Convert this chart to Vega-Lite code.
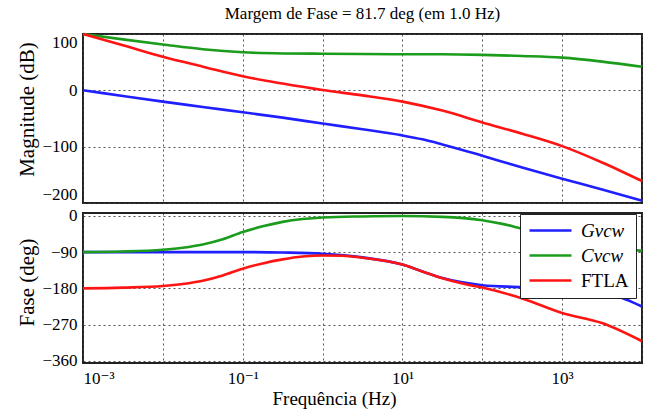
{
  "$schema": "https://vega.github.io/schema/vega-lite/v6.json",
  "padding": {"left": 15, "top": 3, "right": 8, "bottom": 2},
  "background": "white",
  "config": {
    "font": "'Liberation Serif', 'Times New Roman', 'DejaVu Serif', serif",
    "style": {
      "guide-label": {"font": "'Liberation Serif', 'Times New Roman', 'DejaVu Serif', serif"},
      "guide-title": {"font": "'Liberation Serif', 'Times New Roman', 'DejaVu Serif', serif"}
    },
    "view": {"stroke": "#222", "strokeWidth": 2},
    "axis": {
      "labelFont": "'Liberation Serif', 'Times New Roman', 'DejaVu Serif', serif", "labelFontSize": 17, "labelColor": "#000",
      "titleFont": "'Liberation Serif', 'Times New Roman', 'DejaVu Serif', serif", "titleFontWeight": "normal", "titleColor": "#000",
      "grid": true, "gridDash": [2, 3], "gridColor": "#444", "gridWidth": 1, "gridOpacity": 0.9,
      "domain": false, "ticks": false
    },
    "line": {"strokeWidth": 2.6, "interpolate": "monotone"}
  },
  "datasets": {
    "mag": [
      {"f": 0.001, "s": "Gvcw", "v": 0}, {"f": 0.0031623, "s": "Gvcw", "v": -10}, {"f": 0.01, "s": "Gvcw", "v": -20},
      {"f": 0.031623, "s": "Gvcw", "v": -29.5}, {"f": 0.1, "s": "Gvcw", "v": -39}, {"f": 0.31623, "s": "Gvcw", "v": -48.5},
      {"f": 1, "s": "Gvcw", "v": -59}, {"f": 3.1623, "s": "Gvcw", "v": -69}, {"f": 10, "s": "Gvcw", "v": -80},
      {"f": 17.783, "s": "Gvcw", "v": -87}, {"f": 31.623, "s": "Gvcw", "v": -96}, {"f": 100, "s": "Gvcw", "v": -116},
      {"f": 316.23, "s": "Gvcw", "v": -137}, {"f": 1000, "s": "Gvcw", "v": -157}, {"f": 3162.3, "s": "Gvcw", "v": -176},
      {"f": 10000, "s": "Gvcw", "v": -196},
      {"f": 0.001, "s": "Cvcw", "v": 100}, {"f": 0.0031623, "s": "Cvcw", "v": 90.5}, {"f": 0.01, "s": "Cvcw", "v": 81.5},
      {"f": 0.031623, "s": "Cvcw", "v": 73}, {"f": 0.1, "s": "Cvcw", "v": 67.5}, {"f": 0.31623, "s": "Cvcw", "v": 65.5},
      {"f": 1, "s": "Cvcw", "v": 65}, {"f": 3.1623, "s": "Cvcw", "v": 64.5}, {"f": 10, "s": "Cvcw", "v": 64},
      {"f": 31.623, "s": "Cvcw", "v": 64}, {"f": 100, "s": "Cvcw", "v": 63}, {"f": 316.23, "s": "Cvcw", "v": 61},
      {"f": 1000, "s": "Cvcw", "v": 58}, {"f": 3162.3, "s": "Cvcw", "v": 51}, {"f": 10000, "s": "Cvcw", "v": 42},
      {"f": 0.001, "s": "FTLA", "v": 100}, {"f": 0.0031623, "s": "FTLA", "v": 80}, {"f": 0.01, "s": "FTLA", "v": 59.5},
      {"f": 0.031623, "s": "FTLA", "v": 42}, {"f": 0.1, "s": "FTLA", "v": 25}, {"f": 0.31623, "s": "FTLA", "v": 12},
      {"f": 1, "s": "FTLA", "v": 0.5}, {"f": 3.1623, "s": "FTLA", "v": -9}, {"f": 10, "s": "FTLA", "v": -20},
      {"f": 31.623, "s": "FTLA", "v": -36}, {"f": 100, "s": "FTLA", "v": -57}, {"f": 316.23, "s": "FTLA", "v": -77},
      {"f": 1000, "s": "FTLA", "v": -99}, {"f": 3162.3, "s": "FTLA", "v": -128}, {"f": 10000, "s": "FTLA", "v": -161}
    ],
    "phase": [
      {"f": 0.001, "s": "Gvcw", "v": -90}, {"f": 0.01, "s": "Gvcw", "v": -90}, {"f": 0.1, "s": "Gvcw", "v": -90},
      {"f": 0.31623, "s": "Gvcw", "v": -91}, {"f": 1, "s": "Gvcw", "v": -94}, {"f": 3.1623, "s": "Gvcw", "v": -103},
      {"f": 10, "s": "Gvcw", "v": -121}, {"f": 17.783, "s": "Gvcw", "v": -138}, {"f": 31.623, "s": "Gvcw", "v": -154},
      {"f": 56.234, "s": "Gvcw", "v": -165}, {"f": 100, "s": "Gvcw", "v": -172}, {"f": 316.23, "s": "Gvcw", "v": -177},
      {"f": 1000, "s": "Gvcw", "v": -183}, {"f": 3162.3, "s": "Gvcw", "v": -194}, {"f": 5623.4, "s": "Gvcw", "v": -204},
      {"f": 7943.3, "s": "Gvcw", "v": -216}, {"f": 10000, "s": "Gvcw", "v": -225},
      {"f": 0.001, "s": "Cvcw", "v": -90}, {"f": 0.0031623, "s": "Cvcw", "v": -88.5}, {"f": 0.01, "s": "Cvcw", "v": -84},
      {"f": 0.017783, "s": "Cvcw", "v": -79}, {"f": 0.031623, "s": "Cvcw", "v": -71}, {"f": 0.056234, "s": "Cvcw", "v": -58},
      {"f": 0.1, "s": "Cvcw", "v": -40}, {"f": 0.17783, "s": "Cvcw", "v": -26}, {"f": 0.31623, "s": "Cvcw", "v": -15},
      {"f": 0.56234, "s": "Cvcw", "v": -8}, {"f": 1, "s": "Cvcw", "v": -4}, {"f": 3.1623, "s": "Cvcw", "v": -1.5},
      {"f": 10, "s": "Cvcw", "v": -0.5}, {"f": 31.623, "s": "Cvcw", "v": -2.5}, {"f": 100, "s": "Cvcw", "v": -11},
      {"f": 177.83, "s": "Cvcw", "v": -20}, {"f": 316.23, "s": "Cvcw", "v": -32}, {"f": 1000, "s": "Cvcw", "v": -55},
      {"f": 3162.3, "s": "Cvcw", "v": -75}, {"f": 10000, "s": "Cvcw", "v": -87},
      {"f": 0.001, "s": "FTLA", "v": -180}, {"f": 0.0031623, "s": "FTLA", "v": -178}, {"f": 0.01, "s": "FTLA", "v": -174},
      {"f": 0.017783, "s": "FTLA", "v": -169}, {"f": 0.031623, "s": "FTLA", "v": -161}, {"f": 0.056234, "s": "FTLA", "v": -148},
      {"f": 0.1, "s": "FTLA", "v": -131}, {"f": 0.17783, "s": "FTLA", "v": -118}, {"f": 0.31623, "s": "FTLA", "v": -108},
      {"f": 0.56234, "s": "FTLA", "v": -101}, {"f": 1, "s": "FTLA", "v": -98.3}, {"f": 1.7783, "s": "FTLA", "v": -99},
      {"f": 3.1623, "s": "FTLA", "v": -104}, {"f": 10, "s": "FTLA", "v": -121}, {"f": 17.783, "s": "FTLA", "v": -138},
      {"f": 31.623, "s": "FTLA", "v": -155}, {"f": 56.234, "s": "FTLA", "v": -168}, {"f": 100, "s": "FTLA", "v": -178},
      {"f": 316.23, "s": "FTLA", "v": -205}, {"f": 1000, "s": "FTLA", "v": -241}, {"f": 3162.3, "s": "FTLA", "v": -266},
      {"f": 10000, "s": "FTLA", "v": -311}
    ]
  },
  "spacing": -2,
  "resolve": {"scale": {"color": "independent"}, "legend": {"color": "independent"}},
  "vconcat": [
    {
      "title": {"text": "Margem de Fase = 81.7 deg (em 1.0 Hz)", "font": "'Liberation Serif', 'Times New Roman', 'DejaVu Serif', serif", "fontSize": 17, "fontWeight": "normal", "color": "#000", "anchor": "middle", "offset": 6},
      "width": 559,
      "height": 169,
      "data": {"name": "mag"},
      "mark": {"type": "line"},
      "encoding": {
        "x": {"field": "f", "type": "quantitative",
              "scale": {"type": "log", "domain": [0.001, 10000], "nice": false},
              "axis": {"values": [0.001, 0.01, 0.1, 1, 10, 100, 1000, 10000], "labels": false, "title": null, "labelPadding": 0, "offset": 0}},
        "y": {"field": "v", "type": "quantitative",
              "scale": {"domain": [-200, 100], "nice": false, "zero": false},
              "axis": {"values": [-200, -100, 0, 100], "title": "Magnitude (dB)", "titleFontSize": 21, "titlePadding": 4, "titleY": 75,
                       "labelFont": "'Liberation Serif', 'Times New Roman', 'DejaVu Serif', serif", "labelPadding": 6, "labelFlush": true}},
        "color": {"field": "s", "type": "nominal",
                  "scale": {"domain": ["Gvcw", "Cvcw", "FTLA"], "range": ["#1f1fff", "#1c9c1c", "#ff1414"]},
                  "legend": null}
      }
    },
    {
      "width": 559,
      "height": 150,
      "data": {"name": "phase"},
      "mark": {"type": "line"},
      "encoding": {
        "x": {"field": "f", "type": "quantitative",
              "scale": {"type": "log", "domain": [0.001, 10000], "nice": false},
              "axis": {"values": [0.001, 0.01, 0.1, 1, 10, 100, 1000, 10000],
                       "labelFont": "'Liberation Serif', 'Times New Roman', 'DejaVu Serif', serif",
                       "labelExpr": "datum.value == 0.001 ? '10⁻³' : datum.value == 0.1 ? '10⁻¹' : datum.value == 10 ? '10¹' : datum.value == 1000 ? '10³' : ''",
                       "labelPadding": 7, "title": "Frequência  (Hz)", "titleFontSize": 19, "titleX": 251, "titleY": 26}},
        "y": {"field": "v", "type": "quantitative",
              "scale": {"domain": [-365, 7], "nice": false, "zero": false},
              "axis": {"values": [-360, -270, -180, -90, 0], "title": "Fase (deg)", "titleFontSize": 21, "titlePadding": 4, "titleY": 69,
                       "labelFont": "'Liberation Serif', 'Times New Roman', 'DejaVu Serif', serif", "labelPadding": 6}},
        "color": {"field": "s", "type": "nominal",
                  "scale": {"domain": ["Gvcw", "Cvcw", "FTLA"], "range": ["#1f1fff", "#1c9c1c", "#ff1414"]},
                  "legend": {"orient": "none", "legendX": 437, "legendY": 1, "title": null,
                             "fillColor": "white", "strokeColor": "#222", "padding": 7,
                             "symbolType": "M-1,0H5", "symbolSize": 196, "symbolStrokeWidth": 2.6,
                             "labelOffset": 35, "labelFont": "'Liberation Serif', 'Times New Roman', 'DejaVu Serif', serif", "labelFontSize": 19, "labelColor": "#000",
                             "labelFontStyle": {"expr": "datum.label == 'FTLA' ? 'normal' : 'italic'"},
                             "labelExpr": "datum.label + '    '",
                             "rowPadding": 5}}
      }
    }
  ]
}
